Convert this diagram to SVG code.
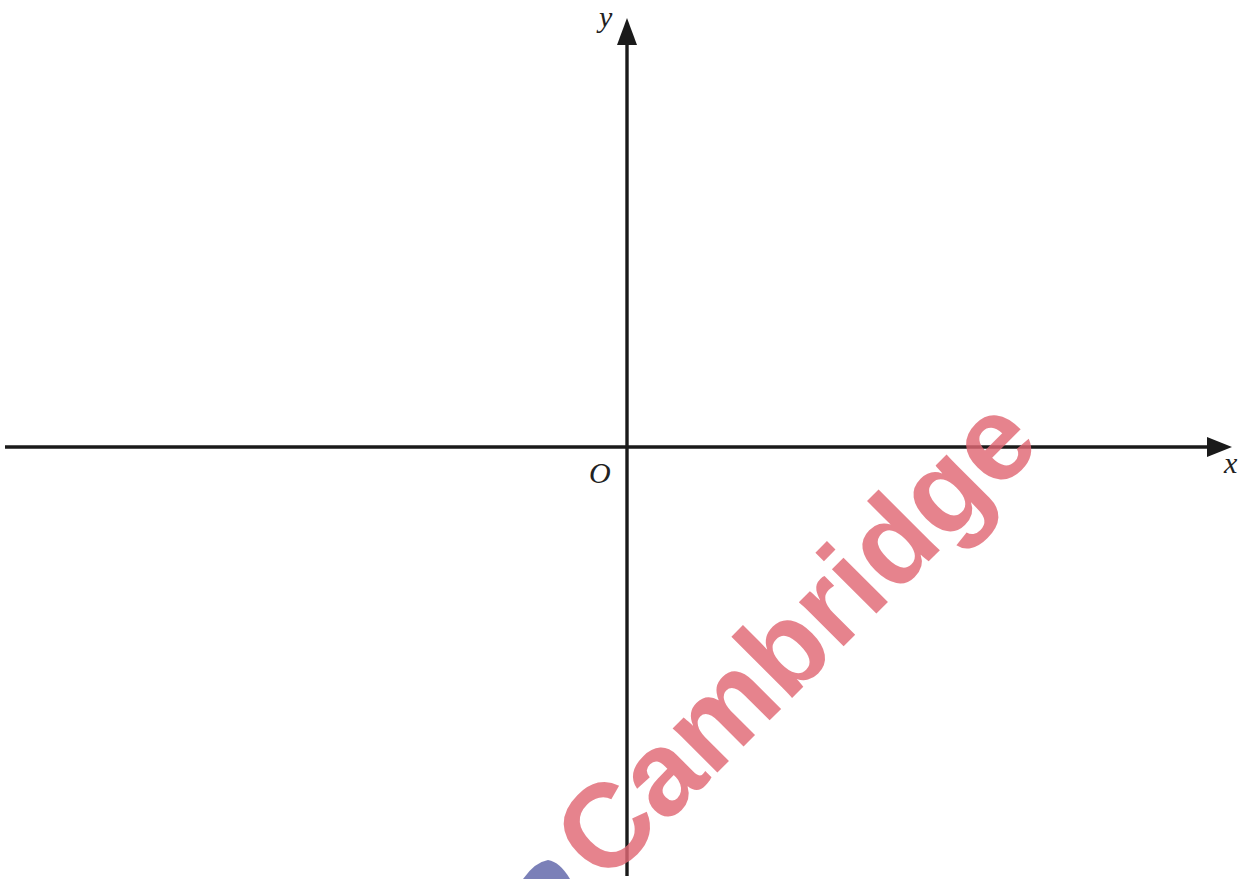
<svg xmlns="http://www.w3.org/2000/svg" width="1246" height="879" viewBox="0 0 1246 879">
<style>
.axis{stroke:#1a1a1a;stroke-width:3.4;fill:none}
.lbl{font-family:"Liberation Serif","Times New Roman",serif;font-style:italic;font-size:30px;fill:#222}
.wm{font-family:"Liberation Sans",Arial,sans-serif;font-weight:bold;font-size:119px;fill:#e06874;fill-opacity:0.82}
</style>
<rect width="1246" height="879" fill="#fff"/>
<g id="connectors">
<path class="axis" d="M5,447 H1208"/>
<path class="axis" d="M627,876 V44"/>
<polygon points="1232,447 1207,437 1207,457" fill="#1a1a1a"/>
<polygon points="627,18 617,45 637,45" fill="#1a1a1a"/>
</g>
<g id="labels">
<text class="lbl" x="599" y="27">y</text>
<text class="lbl" x="1224" y="473">x</text>
<text class="lbl" x="589" y="483">O</text>
</g>
<g id="watermark">
<path d="M523,879 Q535,862 548,860 Q560,862 570,879 Z" fill="#6d72b0" fill-opacity="0.9"/>
<text class="wm" x="604" y="886" transform="rotate(-45 604 886)">Cambridge</text>
</g>
</svg>
